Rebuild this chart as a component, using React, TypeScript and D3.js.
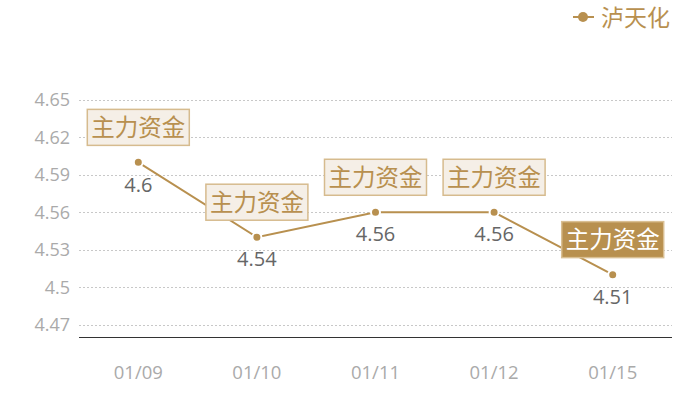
import React from "react";
import * as d3 from "d3";

const categories = ["01/09", "01/10", "01/11", "01/12", "01/15"];
const values = [4.6, 4.54, 4.56, 4.56, 4.51];
const yTicks = [4.47, 4.5, 4.53, 4.56, 4.59, 4.62, 4.65];
const markLabel = "主力资金";
const highlighted = [false, false, false, false, true];
const seriesName = "泸天化";

const W = 700, H = 400;
const left = 79, right = 672, top = 100, bottom = 337;
const GOLD = "#b8904f";
const CJK = "'Noto Sans CJK SC', sans-serif";
const NUM = "'Open Sans', 'Noto Sans', sans-serif";

export default function App() {
  const x = d3.scaleBand<string>().domain(categories).range([left, right]);
  const y = d3.scaleLinear().domain([4.46, 4.65]).range([bottom, top]);
  const cx = (c: string) => (x(c) as number) + x.bandwidth() / 2;
  const line = d3
    .line<number>()
    .x((_, i) => cx(categories[i]))
    .y((d) => y(d));

  return (
    <svg width={W} height={H} style={{ position: "absolute", left: 0, top: 0 }}>
      <rect width={W} height={H} fill="#fff" />
      {yTicks.map((t) => (
        <g key={t}>
          <line x1={left} x2={right} y1={Math.round(y(t)) + 0.5} y2={Math.round(y(t)) + 0.5} stroke="#c8c8c8" strokeDasharray="2,2" />
          <text x={70} y={y(t)} dy="0.36em" textAnchor="end" fontSize={18} fill="#aaa" fontFamily={NUM}>
            {d3.format("")(t)}
          </text>
        </g>
      ))}
      <line x1={left} x2={right} y1={bottom + 0.5} y2={bottom + 0.5} stroke="#333" strokeWidth={1} />
      {categories.map((c) => (
        <text key={c} x={cx(c)} y={372} dy="0.36em" textAnchor="middle" fontSize={18.5} fill="#aaa" fontFamily={NUM}>
          {c}
        </text>
      ))}
      <path d={line(values) || ""} fill="none" stroke={GOLD} strokeWidth={2} />
      {values.map((v, i) => (
        <circle key={i} cx={cx(categories[i])} cy={y(v)} r={4.5} fill={GOLD} stroke="#fff" strokeWidth={2} />
      ))}
      {values.map((v, i) => (
        <text key={"v" + i} x={cx(categories[i])} y={y(v) + 22} dy="0.36em" textAnchor="middle" fontSize={20} fill="#666" fontFamily={NUM}>
          {v}
        </text>
      ))}
      {values.map((v, i) => {
        const px = cx(categories[i]);
        const py = y(v);
        const bw = 102, bh = 36;
        const hl = highlighted[i];
        return (
          <g key={"m" + i}>
            <rect
              x={px - bw / 2}
              y={py - 17 - bh}
              width={bw}
              height={bh}
              fill={hl ? GOLD : "#f5efe7"}
              stroke={hl ? "#d9bf93" : "#d6bb8e"}
              strokeWidth={1.5}
            />
            <text x={px} y={py - 17 - bh / 2} dy="0.36em" textAnchor="middle" fontSize={23.5} fill={hl ? "#fff" : GOLD} fontFamily={CJK}>
              {markLabel}
            </text>
          </g>
        );
      })}
      <g>
        <line x1={573} x2={594} y1={17} y2={17} stroke={GOLD} strokeWidth={2} />
        <circle cx={583} cy={17} r={5} fill={GOLD} />
        <text x={601} y={18} dy="0.36em" fontSize={23} fill={GOLD} fontFamily={CJK}>
          {seriesName}
        </text>
      </g>
    </svg>
  );
}
